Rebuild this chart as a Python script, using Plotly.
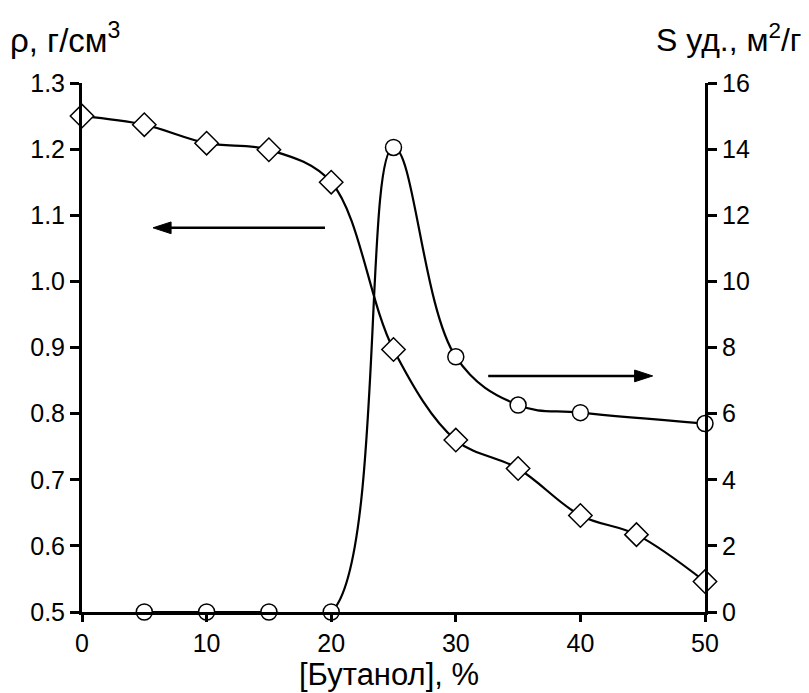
import plotly.graph_objects as go

x_rho = [0, 5, 10, 15, 20, 25, 30, 35, 40, 44.5, 50]
rho = [1.25, 1.237, 1.209, 1.199, 1.150, 0.897, 0.760, 0.717, 0.646, 0.617, 0.546]
x_s = [5, 10, 15, 20, 25, 30, 35, 40, 50]
s_ud = [0, 0, 0, 0, 14.05, 7.72, 6.26, 6.03, 5.70]

# arrows pointing to each curve's axis (start -> end)
arrow_left_x = [19.5, 5.7]
arrow_left_y = [1.081, 1.081]
arrow_right_x = [32.6, 45.8]
arrow_right_y = [7.14, 7.14]

font = dict(family="Liberation Sans, Arial, sans-serif", color="black")

fig = go.Figure()
fig.add_trace(go.Scatter(
    x=x_rho, y=rho, mode="lines+markers", cliponaxis=False,
    line=dict(color="black", width=2.2, shape="spline", smoothing=1.0),
    marker=dict(symbol="diamond", size=18, color="white", line=dict(color="black", width=1.5)),
    showlegend=False, hoverinfo="skip"))
fig.add_trace(go.Scatter(
    x=x_s, y=s_ud, mode="lines+markers", yaxis="y2", cliponaxis=False,
    line=dict(color="black", width=2.2, shape="spline", smoothing=1.1),
    marker=dict(symbol="circle", size=16, color="white", line=dict(color="black", width=1.5)),
    showlegend=False, hoverinfo="skip"))
for ax_x, ax_y, yax in [(arrow_left_x, arrow_left_y, "y"), (arrow_right_x, arrow_right_y, "y2")]:
    fig.add_trace(go.Scatter(
        x=ax_x, y=ax_y, mode="lines+markers", yaxis=yax,
        line=dict(color="black", width=2.4),
        marker=dict(symbol=["circle", "arrow"], size=[0, 19], angleref="previous", color="black",
                    opacity=1, line=dict(width=1, color="black")),
        showlegend=False, hoverinfo="skip"))

tf = dict(size=25, **font)
fig.update_layout(
    width=809, height=693,
    margin=dict(l=82, r=104, t=83, b=81),
    paper_bgcolor="white", plot_bgcolor="white",
    font=dict(size=25, **font),
    xaxis=dict(range=[0, 50], tickvals=[0, 10, 20, 30, 40, 50], showgrid=False, zeroline=False,
               showline=True, linecolor="black", linewidth=3, ticks="outside", ticklen=7,
               tickwidth=3, tickcolor="black", tickfont=tf),
    yaxis=dict(range=[0.5, 1.3], tickvals=[0.5, 0.6, 0.7, 0.8, 0.9, 1.0, 1.1, 1.2, 1.3],
               ticktext=["0.5", "0.6", "0.7", "0.8", "0.9", "1.0", "1.1", "1.2", "1.3"],
               showgrid=False, zeroline=False, showline=True, linecolor="black", linewidth=3,
               ticks="outside", ticklen=9, tickwidth=3, tickcolor="black", tickfont=tf),
    yaxis2=dict(range=[0, 16], tickvals=[0, 2, 4, 6, 8, 10, 12, 14, 16], overlaying="y", side="right",
                showgrid=False, zeroline=False, showline=True, linecolor="black", linewidth=3,
                ticks="outside", ticklen=9, tickwidth=3, tickcolor="black", tickfont=tf),
)

fig.add_annotation(text="ρ, г/см<sup>3</sup>", xref="paper", yref="paper",
                   x=(8 - 82) / 623, y=(612 - 38) / 529, xanchor="left", yanchor="middle",
                   showarrow=False, font=dict(size=33, **font))
fig.add_annotation(text="S уд., м<sup>2</sup>/г", xref="paper", yref="paper",
                   x=(804 - 82) / 623, y=(612 - 38) / 529, xanchor="right", yanchor="middle",
                   showarrow=False, font=dict(size=32, **font))
fig.add_annotation(text="[Бутанол], %", xref="paper", yref="paper",
                   x=(389 - 82) / 623, y=(612 - 674) / 529, xanchor="center", yanchor="middle",
                   showarrow=False, font=dict(size=31, **font))

fig.write_html("out.html")
